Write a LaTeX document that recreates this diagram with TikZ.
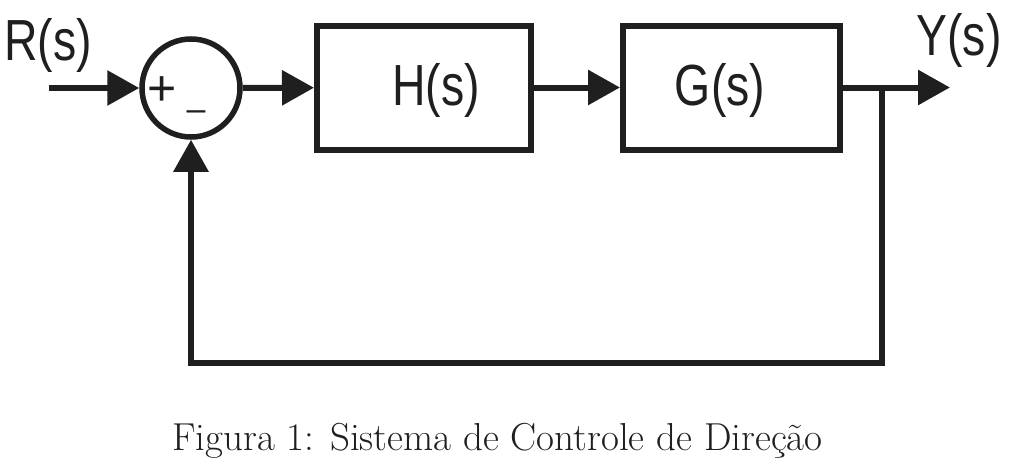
\documentclass[tikz,border=0pt]{standalone}
\usepackage{fontspec}
\newfontfamily\diag[FakeStretch=0.8]{Liberation Sans}
\newfontfamily\sgnfont{Liberation Sans}
\usetikzlibrary{arrows.meta}
\begin{document}
\begin{tikzpicture}[x=1pt,y=-1pt,
  line width=6pt, color={black!88},
  blk/.style={draw, line width=6pt, inner sep=0pt, minimum height=124pt},
  sumnode/.style={draw, circle, line width=5.5pt, inner sep=0pt, minimum size=98pt},
  arr/.style={-{Triangle[length=32pt,width=34pt]}},
  lbl/.style={font=\diag\fontsize{58}{60}\selectfont, inner sep=0pt, anchor=base},
  sgn/.style={inner sep=0pt, anchor=center},
  captext/.style={font=\fontsize{39}{44}\selectfont, inner sep=0pt, anchor=base}
]
\useasboundingbox (0,0) rectangle (1009,466);
\fill[white] (0,0) rectangle (1009,466);
% blocks
\node[sumnode] (sum) at (191,88) {};
\node[blk, minimum width=214pt] (H) at (424,87.5) {};
\node[blk, minimum width=217pt] (G) at (731.5,87.5) {};
% texts
\node[lbl] (Ht) at (436,105) {H(s)};
\node[lbl] (Gt) at (720,105) {G(s)};
\node[lbl] (Rt) at (48,60) {R(s)};
\node[lbl] (Yt) at (959,55) {Y(s)};
\node[sgn, font=\sgnfont\fontsize{50}{50}\selectfont] (plus) at (162,91) {+};
\node[sgn, font=\sgnfont\fontsize{34}{34}\selectfont] (minus) at (196,116) {–};
\node[captext] (caption) at (497.5,450) {Figura 1: Sistema de Controle de Direção};
% coordinates
\coordinate (in) at (49,88);
\coordinate (out) at (950,87.5);
\coordinate (br) at (882,87.5);
\coordinate (fbR) at (882,363);
\coordinate (fbL) at (sum.south |- fbR);
% connectors
\draw[arr] (in) -- (sum);
\draw[arr] (sum) -- (H);
\draw[arr] (H) -- (G);
\draw[arr] (G) -- (out);
\draw[arr] (br) -- (fbR) -- (fbL) -- (sum.south);
\end{tikzpicture}
\end{document}
